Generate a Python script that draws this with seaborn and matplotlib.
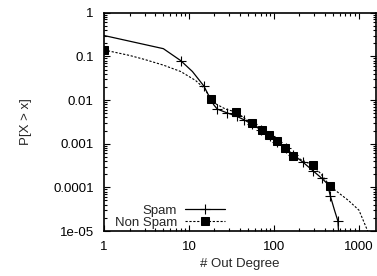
import matplotlib
matplotlib.use('Agg')
import matplotlib.pyplot as plt
import seaborn as sns
import pandas as pd

# CCDF of out degree
spam_x = [1, 5, 8, 11, 15, 17, 19.7, 21.6, 28, 37, 45, 55, 70, 90, 110,
          140, 170, 220, 290, 370, 430, 464, 520, 570, 580]
spam_y = [0.30, 0.15, 0.08, 0.045, 0.021, 0.013, 0.0077, 0.0062, 0.0051,
          0.0042, 0.0035, 0.0028, 0.0021, 0.0015, 0.0011, 0.00078, 0.00055,
          0.00038, 0.00024, 0.00016, 0.00012, 6.4e-5, 3e-5, 1.7e-5, 1e-5]
spam_marks = [2, 4, 7, 8, 9, 10, 11, 12, 13, 14, 15, 16, 17, 18, 19, 21, 23]

nonspam_x = [1, 2, 3, 5, 8, 12, 15, 18.4, 20, 27, 36, 55, 72, 89, 110, 137,
             170, 287, 355, 464, 760, 1010, 1280]
nonspam_y = [0.14, 0.105, 0.085, 0.063, 0.045, 0.028, 0.019, 0.0105, 0.0085,
             0.0062, 0.0053, 0.0029, 0.0021, 0.0016, 0.00115, 0.00079,
             0.00053, 0.00032, 0.00021, 0.000105, 5e-5, 3e-5, 1e-5]
nonspam_marks = [0, 7, 10, 11, 12, 13, 14, 15, 16, 17, 19]

yticks = [1, 0.1, 0.01, 0.001, 0.0001, 1e-05]
ytick_labels = ['1', '0.1', '0.01', '0.001', '0.0001', '1e-05']
xticks = [1, 10, 100, 1000]
xtick_labels = ['1', '10', '100', '1000']

sns.set_theme(style='ticks')
plt.rcParams['font.family'] = ['Liberation Sans', 'DejaVu Sans']

spam = pd.DataFrame({'x': spam_x, 'y': spam_y})
nonspam = pd.DataFrame({'x': nonspam_x, 'y': nonspam_y})

fig = plt.figure(figsize=(3.77, 2.76), dpi=100)
ax = fig.add_axes([0.276, 0.163, 0.722, 0.791])

sns.lineplot(data=spam, x='x', y='y', ax=ax, color='black', lw=0.9,
             marker='+', markersize=7, mew=0.8, mec='black',
             markevery=spam_marks, sort=False, label='Spam')
sns.lineplot(data=nonspam, x='x', y='y', ax=ax, color='black', lw=0.8,
             linestyle=(0, (2, 1.5)), marker='s', markersize=5.5,
             mec='black', mfc='black', markevery=nonspam_marks,
             sort=False, label='Non Spam')

ax.set_xscale('log')
ax.set_yscale('log')
ax.set_xlim(1, 1615)
ax.set_ylim(1e-05, 1)
ax.set_xticks(xticks)
ax.set_xticklabels(xtick_labels)
ax.set_yticks(yticks)
ax.set_yticklabels(ytick_labels)
ax.tick_params(which='both', direction='in', top=True, right=True,
               labelsize=9.5, colors='black', width=0.8)
ax.tick_params(which='major', length=4)
ax.tick_params(axis='y', which='major', pad=7.5)
ax.tick_params(axis='x', which='major', pad=7)
ax.tick_params(which='minor', length=2)
for s in ax.spines.values():
    s.set_linewidth(1.2)
    s.set_color('black')

ax.set_xlabel('# Out Degree', fontsize=9.5, labelpad=4)
ax.set_ylabel('P[X > x]', fontsize=9.5, labelpad=15)

leg = ax.legend(loc='lower right', bbox_to_anchor=(0.467, -0.02),
                frameon=False, markerfirst=False, fontsize=9.5,
                handlelength=3.0, handletextpad=0.6, labelspacing=0.0,
                borderpad=0.0)

fig.savefig('out.png', dpi=100)
